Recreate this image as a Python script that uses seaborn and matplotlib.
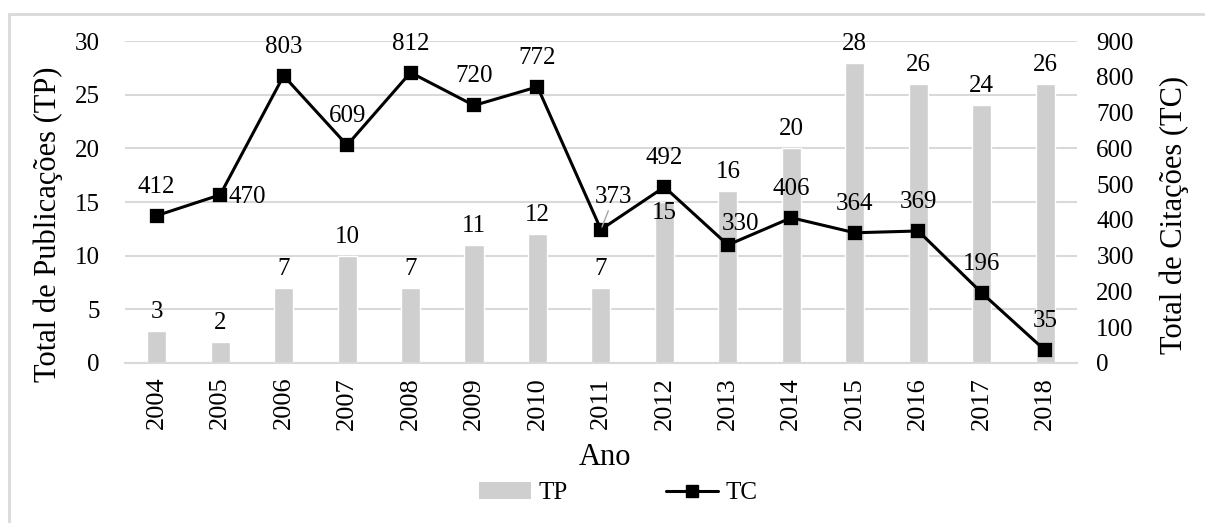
import numpy as np
import pandas as pd
import matplotlib
matplotlib.use("Agg")
import matplotlib.pyplot as plt
import seaborn as sns
from matplotlib.lines import Line2D
from matplotlib.patches import Patch

# data
anos = ["2004", "2005", "2006", "2007", "2008", "2009", "2010", "2011",
        "2012", "2013", "2014", "2015", "2016", "2017", "2018"]
tp = [3, 2, 7, 10, 7, 11, 12, 7, 15, 16, 20, 28, 26, 24, 26]
tc = [412, 470, 803, 609, 812, 720, 772, 373, 492, 330, 406, 364, 369, 196, 35]

df = pd.DataFrame({"Ano": anos, "TP": tp, "TC": tc})

sns.set_style("white")
plt.rcParams["font.family"] = ["Liberation Serif", "DejaVu Serif"]
for k in ["text.color", "axes.labelcolor", "xtick.color", "ytick.color"]:
    plt.rcParams[k] = "black"

bar_color = "#d0cfd0"
grid_color = "#d9d9d9"
fs = 18

fig = plt.figure(figsize=(12.05, 5.23), dpi=100)
ax1 = fig.add_axes([0.1037, 0.306, 0.79, 0.6155])

sns.barplot(data=df, x="Ano", y="TP", color=bar_color, width=0.3,
            saturation=1, ax=ax1, zorder=2)
ax1.set_ylim(0, 30)
ax1.set_yticks(range(0, 31, 5))
ax1.set_xlim(-0.5, len(anos) - 0.5)
ax1.yaxis.grid(True, color=grid_color, linewidth=1.5)
ax1.set_axisbelow(True)
for s in ["top", "right", "left"]:
    ax1.spines[s].set_visible(False)
ax1.spines["bottom"].set_color(grid_color)
ax1.spines["bottom"].set_linewidth(1.5)
ax1.tick_params(axis="both", length=0, labelsize=fs)
ax1.tick_params(axis="x", labelrotation=90, pad=10, labelsize=19)
ax1.tick_params(axis="y", pad=18)
ax1.set_xlabel("Ano", fontsize=22)
ax1.xaxis.set_label_coords(0.504, -0.25)
ax1.set_ylabel("Total de Publicações (TP)", fontsize=22)
ax1.yaxis.set_label_coords(-0.065, 0.43)

# TP labels above bars
for i, v in enumerate(tp):
    dy = -22 if anos[i] == "2012" else 8
    ax1.annotate(str(v), (i, v), xytext=(0, dy), textcoords="offset pixels",
                 ha="center", va="bottom", fontsize=fs)

ax2 = ax1.twinx()
sns.pointplot(data=df, x="Ano", y="TC", color="black", markers="s",
              linestyles="-", markersize=8, linewidth=2.2, ax=ax2)
ax2.set_ylim(0, 900)
ax2.set_yticks(range(0, 901, 100))
ax2.set_xlim(-0.5, len(anos) - 0.5)
for s in ["top", "right", "left", "bottom"]:
    ax2.spines[s].set_visible(False)
ax2.tick_params(axis="y", length=0, labelsize=fs, pad=14)
ax2.set_ylabel("Total de Citações (TC)", fontsize=22)
ax2.yaxis.set_label_coords(1.087, 0.46)
ax2.set_xlabel("")

# TC labels
for i, v in enumerate(tc):
    if anos[i] == "2005":
        ax2.annotate(str(v), (i, v), xytext=(8, -2), textcoords="offset pixels",
                     ha="left", va="center", fontsize=fs)
    elif anos[i] == "2011":
        ax2.annotate(str(v), (i, v), xytext=(13, 22), textcoords="offset pixels",
                     ha="center", va="bottom", fontsize=fs,
                     arrowprops=dict(arrowstyle="-", color="#a6a6a6", lw=1,
                                     shrinkA=0, shrinkB=2))
    elif anos[i] == "2013":
        ax2.annotate(str(v), (i, v), xytext=(13, 10), textcoords="offset pixels",
                     ha="center", va="bottom", fontsize=fs)
    else:
        ax2.annotate(str(v), (i, v), xytext=(0, 18), textcoords="offset pixels",
                     ha="center", va="bottom", fontsize=fs)

handles = [Patch(facecolor=bar_color, edgecolor="none", label="TP"),
           Line2D([0], [0], color="black", lw=2.2, marker="s", markersize=8, label="TC")]
fig.legend(handles=handles, loc="center", bbox_to_anchor=(0.513, 0.057), ncol=2,
           frameon=False, fontsize=fs, handlelength=2.1, handletextpad=0.3,
           columnspacing=3.9)

# outer frame of the chart area
fig.add_artist(Line2D([0.0075, 0.0075], [0.0, 0.973], color=grid_color, lw=2,
                      transform=fig.transFigure))
fig.add_artist(Line2D([0.0075, 1.0], [0.973, 0.973], color=grid_color, lw=2,
                      transform=fig.transFigure))

fig.savefig("out.png", dpi=100)
